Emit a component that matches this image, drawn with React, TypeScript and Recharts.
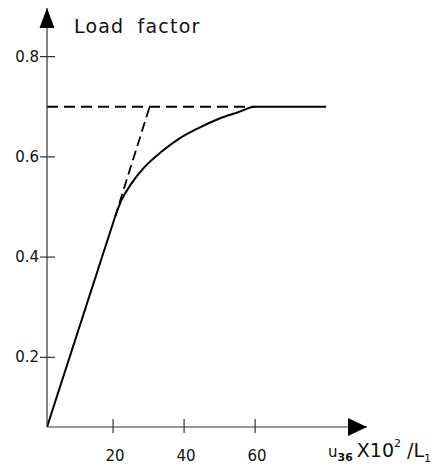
import { LineChart, Line, XAxis, YAxis, ReferenceDot, Label } from "recharts";

// values (x in u36·10²/L1, y = load factor)
const riseX = [1.4, 20.5];
const riseY = [0.061, 0.479];
const curveX = [20.5, 22.4, 25.2, 28.9, 33.6, 38.3, 43.9, 49.5, 55.2, 60, 80];
const curveY = [0.479, 0.514, 0.547, 0.58, 0.61, 0.635, 0.657, 0.675, 0.689, 0.7, 0.7];
const limitX = [1.4, 60];
const limitY = [0.7, 0.7];
const tangentX = [20.5, 30.3];
const tangentY = [0.479, 0.7];

const xTicks = [20, 40, 60];
const yTicks = [0.2, 0.4, 0.6, 0.8];
const xDomain: [number, number] = [1.4, 91.5];
const yDomain: [number, number] = [0.061, 0.897];

const zip = (xs: number[], ys: number[]) => xs.map((x, i) => ({ x, y: ys[i] }));

const ink = "#111";
const font = "'DejaVu Sans', sans-serif";

const YTick = (p: any) => (
  <g>
    <line x1={p.x - 7} x2={p.x + 8} y1={p.y} y2={p.y} stroke="#333" strokeWidth={1.2} />
    <text x={p.x - 8} y={p.y + 5} textAnchor="end" fontSize={15} fill={ink} fontFamily={font}>
      {p.payload.value}
    </text>
  </g>
);

const XTick = (p: any) => (
  <g>
    <line x1={p.x} x2={p.x} y1={p.y - 8} y2={p.y + 6} stroke="#333" strokeWidth={1.2} />
    <text x={p.x + 2} y={p.y + 34} textAnchor="middle" fontSize={15} fill={ink} fontFamily={font}>
      {p.payload.value}
    </text>
  </g>
);

const UpArrow = (p: any) => (
  <polygon points={`${p.cx},${p.cy} ${p.cx - 7.5},${p.cy + 20} ${p.cx + 7.5},${p.cy + 20}`} fill="#000" />
);

const RightArrow = (p: any) => (
  <polygon points={`${p.cx},${p.cy} ${p.cx - 19},${p.cy - 9} ${p.cx - 19},${p.cy + 9}`} fill="#000" />
);

export default function App() {
  return (
    <div style={{ position: "absolute", left: 0, top: 0, background: "#fff" }}>
      <LineChart width={435} height={468} margin={{ top: 8, right: 68, bottom: 40, left: 0 }}>
        <XAxis
          type="number"
          dataKey="x"
          height={1}
          domain={xDomain}
          allowDataOverflow
          ticks={xTicks}
          tick={<XTick />}
          tickSize={0}
          tickMargin={0}
          tickLine={false}
          axisLine={{ stroke: "#333", strokeWidth: 1.2 }}
        >
          <Label
            content={(props: any) => {
              const vb = props.viewBox;
              return (
                <text x={vb.x + vb.width - 39} y={vb.y + 30} fill={ink} fontFamily={font}>
                  <tspan fontSize={15}>u</tspan>
                  <tspan fontSize={11} fontWeight="bold" dy={4}>36</tspan>
                  <tspan fontSize={19} dy={-4} dx={4}>X10</tspan>
                  <tspan fontSize={11} dy={-10}>2</tspan>
                  <tspan fontSize={19} dy={10} dx={6}>/L</tspan>
                  <tspan fontSize={11} dy={5}>1</tspan>
                </text>
              );
            }}
          />
        </XAxis>
        <YAxis
          type="number"
          dataKey="y"
          width={47}
          domain={yDomain}
          allowDataOverflow
          ticks={yTicks}
          tick={<YTick />}
          tickSize={0}
          tickMargin={0}
          tickLine={false}
          axisLine={{ stroke: "#333", strokeWidth: 1.2 }}
        >
          <Label
            content={(props: any) => {
              const vb = props.viewBox;
              return (
                <text
                  x={vb.x + vb.width + 27}
                  y={vb.y + 25}
                  fontSize={19}
                  letterSpacing={1.2}
                  wordSpacing={6}
                  fill={ink}
                  fontFamily={font}
                >
                  Load factor
                </text>
              );
            }}
          />
        </YAxis>
        <Line
          data={zip(limitX, limitY)}
          dataKey="y"
          type="linear"
          stroke="#000"
          strokeWidth={2}
          strokeDasharray="11 6"
          dot={false}
          isAnimationActive={false}
        />
        <Line
          data={zip(tangentX, tangentY)}
          dataKey="y"
          type="linear"
          stroke="#000"
          strokeWidth={1.8}
          strokeDasharray="10 5"
          dot={false}
          isAnimationActive={false}
        />
        <Line
          data={zip(riseX, riseY)}
          dataKey="y"
          type="linear"
          stroke="#000"
          strokeWidth={2}
          dot={false}
          isAnimationActive={false}
        />
        <Line
          data={zip(curveX, curveY)}
          dataKey="y"
          type="monotone"
          stroke="#000"
          strokeWidth={2}
          dot={false}
          isAnimationActive={false}
        />
        <ReferenceDot x={xDomain[0]} y={yDomain[1]} ifOverflow="visible" shape={<UpArrow />} />
        <ReferenceDot x={xDomain[1]} y={yDomain[0]} ifOverflow="visible" shape={<RightArrow />} />
      </LineChart>
    </div>
  );
}
